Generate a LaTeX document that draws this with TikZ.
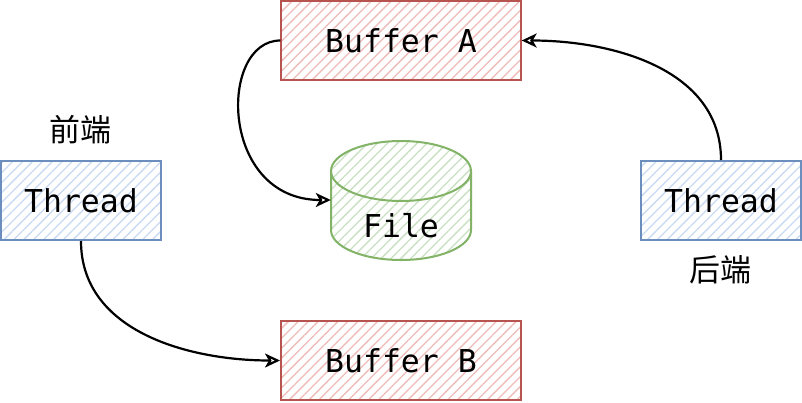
\documentclass[tikz,border=0pt]{standalone}
\usepackage{fontspec}
\setmonofont{DejaVu Sans Mono}
\newfontfamily\cjk{Noto Sans CJK SC}
\usepackage{xcolor}
\usepackage{tikz}
\usetikzlibrary{positioning, arrows.meta, patterns.meta}

\definecolor{redfill}{HTML}{F8CECC}
\definecolor{redline}{HTML}{B85450}
\definecolor{bluefill}{HTML}{DAE8FC}
\definecolor{blueline}{HTML}{6C8EBF}
\definecolor{greenfill}{HTML}{D5E8D4}
\definecolor{greenline}{HTML}{82B366}

\begin{document}
\begin{tikzpicture}[x=1pt, y=-1pt, font=\ttfamily\fontsize{31.5}{36}\selectfont,
    hatch/.style={pattern={Lines[angle=45, distance=7pt, line width=1.3pt]}, pattern color=#1},
    bufbox/.style={draw=redline, line width=2pt, hatch=redfill!85!redline,
      minimum width=240pt, minimum height=79pt, inner sep=0pt},
    thrbox/.style={draw=blueline, line width=2pt, hatch=bluefill!85!blueline,
      minimum width=160pt, minimum height=79pt, inner sep=0pt},
    arr/.style={-{Stealth[open, length=15pt, width=14pt, inset=4pt]}, line width=2.2pt},
    side/.style={font=\cjk\fontsize{31}{35}\selectfont}]
        \fill[white] (0,0) rectangle (802,402);
        \useasboundingbox (0,0) rectangle (802,402);
        % boxes
        \node[bufbox] (bufa) at (401,40.5) {Buffer A};
        \node[bufbox] (bufb) at (401,360.5) {Buffer B};
        \node[thrbox] (thl) at (81,200.5) {Thread};
        \node[thrbox] (thr) at (721,200.5) {Thread};
        \node[side] (front) at (80,130) {前端};
        \node[side] (back) at (720,270) {后端};
        % cylinder
        \node[minimum width=140pt, minimum height=120pt, inner sep=0pt] (file) at (401,200) {};
        \draw[greenline, line width=2pt, hatch=greenfill!85!greenline] (331,171) -- (331,230)
          arc[start angle=180, end angle=360, x radius=70pt, y radius=30pt] -- (471,171)
          arc[start angle=0, end angle=180, x radius=70pt, y radius=30pt] -- cycle;
        \draw[greenline, line width=2pt] (331,171)
          arc[start angle=180, end angle=360, x radius=70pt, y radius=30pt];
        \node (filelbl) at (401,226) {File};
        % connectors
        \draw[arr] (bufa.west) .. controls +(-62,0) and +(-112,0) .. (file.west);
        \draw[arr] (thr.north) to[out=90, in=0] (bufa.east);
        \draw[arr] (thl.south) to[out=-90, in=180] (bufb.west);
      \end{tikzpicture}
\end{document}
